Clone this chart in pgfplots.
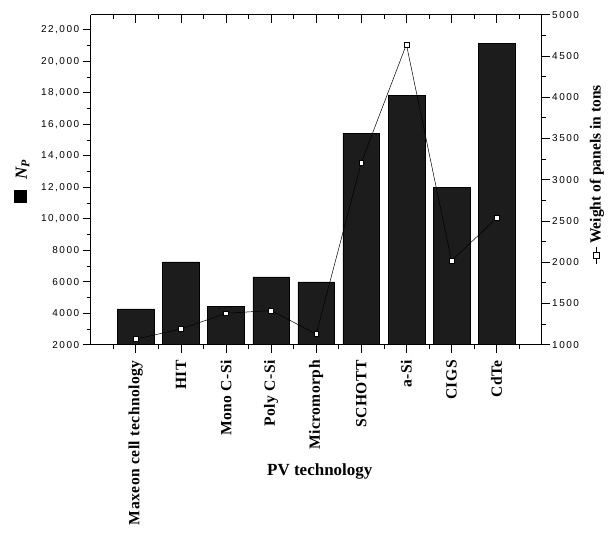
\documentclass[border=0pt]{standalone}
\usepackage{fontspec}
\setmainfont{Liberation Serif}
\setsansfont{Liberation Sans}
\newfontfamily\tickfont[LetterSpace=15]{Liberation Sans}
\newfontfamily\catfont[LetterSpace=3]{Liberation Serif}
\usepackage{pgfplots}
\pgfplotsset{compat=1.18}

\definecolor{barfill}{RGB}{28,28,28}

\pgfplotsset{
  base/.style={
    scale only axis, width=451pt, height=330pt,
    xmin=-1, xmax=9,
    scaled y ticks=false,
    axis line style={line width=0.8pt},
    every tick/.style={black, line width=0.7pt},
    major tick length=8pt, minor tick length=4pt,
    xtick={0,...,8}, minor xtick={-0.5,0.5,...,8.5},
    yticklabel style={font=\tickfont\fontsize{10}{10}\selectfont},
  },
}

\begin{document}
\begin{tikzpicture}
\begin{axis}[base,
    axis x line*=bottom, axis y line*=left, tick align=outside,
    ymin=2000, ymax=22950,
    xticklabels={Maxeon cell technology, HIT, Mono C-Si, Poly C-Si, Micromorph, SCHOTT, a-Si, CIGS, CdTe},
    xticklabel style={rotate=90, anchor=east, font=\catfont\bfseries\fontsize{15.6}{15.6}\selectfont},
    xticklabel shift=4pt,
    ytick={2000,4000,...,22000},
    yticklabels={2000,4000,6000,8000,{10,000},{12,000},{14,000},{16,000},{18,000},{20,000},{22,000}},
    minor ytick={3000,5000,...,21000},
    xlabel={PV technology},
    xlabel style={at={(axis description cs:0.508,-0.384)}, anchor=center, font=\bfseries\fontsize{17}{17}\selectfont},
    ylabel={\rule{13pt}{13pt}\hspace{10pt}{\bfseries\itshape N\textsubscript{P}}},
    ylabel style={at={(axis description cs:-0.153,0.495)}, anchor=center, font=\fontsize{17}{17}\selectfont},
]
\coordinate (sw) at (rel axis cs:0,0);
\coordinate (ne) at (rel axis cs:1,1);
\addplot[ybar, bar width=36.7pt, fill=barfill, draw=black, line width=0.5pt]
  coordinates {(0,4270) (1,7260) (2,4420) (3,6310) (4,5990) (5,15410) (6,17810) (7,11980) (8,21150)};
\end{axis}

\begin{axis}[base,
    axis y line*=right, axis x line=none, tick align=outside,
    ymin=1000, ymax=5000,
    ytick={1000,1500,...,5000},
    yticklabels={1000,1500,2000,2500,3000,3500,4000,4500,5000},
    minor ytick={1250,1750,...,4750},
    yticklabel style={xshift=-1pt},
    ylabel={\tikz[baseline=-0.6ex]{\draw[line width=0.8pt] (0,0)--(17pt,0); \draw[fill=white, line width=0.6pt] (5pt,-3pt) rectangle (11pt,3pt);}\,Weight of panels in tons},
    ylabel style={at={(axis description cs:1.1226,0.515)}, anchor=center, font=\bfseries\fontsize{15.5}{15.5}\selectfont},
]
\addplot[black, line width=0.5pt, mark=square*, mark size=2.4pt,
    mark options={fill=white, draw=black, line width=0.5pt}]
  coordinates {(0,1068) (1,1190) (2,1381) (3,1414) (4,1129) (5,3207) (6,4639) (7,2018) (8,2534)};
\end{axis}

\begin{axis}[base,
    axis x line*=top, axis y line=none, tick align=inside,
    ymin=0, ymax=1, xticklabels={},
]
\end{axis}

\pgfresetboundingbox
\path[use as bounding box] ([shift={(-90.7pt,-189pt)}]sw) rectangle ([shift={(69.3pt,14.7pt)}]ne);
\end{tikzpicture}
\end{document}
